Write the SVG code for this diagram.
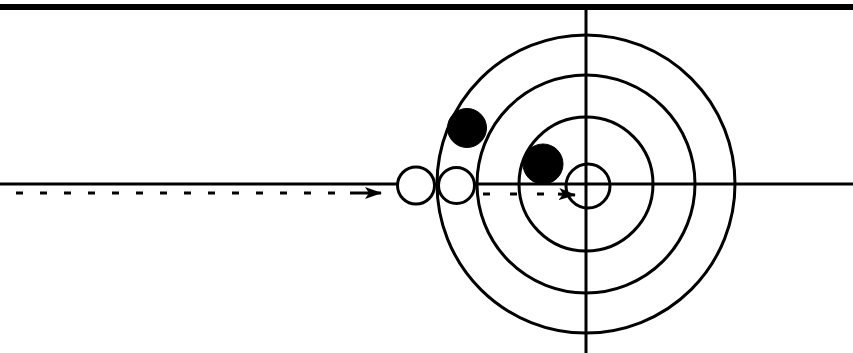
<svg xmlns="http://www.w3.org/2000/svg" width="853" height="353" viewBox="0 0 853 353">
<style>
.ln{stroke:#000;stroke-width:3;fill:none}
.ring{stroke:#000;stroke-width:3;fill:none}
.stone{stroke:#000;stroke-width:3;fill:#fff}
.hit{fill:#000;stroke:#000;stroke-width:1}
.path{stroke:#000;stroke-width:3;fill:none;stroke-dasharray:7 17}
</style>
<defs>
<marker id="ah" markerWidth="17" markerHeight="12" refX="16" refY="6" orient="auto" markerUnits="userSpaceOnUse" viewBox="0 0 17 12">
<path d="M0,0 L17,6 L0,12 L4,6 Z" fill="#000"/>
</marker>
</defs>
<rect width="853" height="353" fill="#fff"/>
<g id="sheet">
<line class="ln" x1="0" y1="7" x2="853" y2="7" style="stroke-width:6"/>
<line class="ln" x1="0" y1="184" x2="853" y2="184"/>
<line class="ln" x1="586" y1="7" x2="586" y2="353"/>
</g>
<g id="house">
<circle class="ring" cx="586" cy="184" r="149"/>
<circle class="ring" cx="586" cy="184" r="109"/>
<circle class="ring" cx="586" cy="184" r="67"/>
</g>
<g id="connectors">
<line class="path" x1="16" y1="193" x2="345" y2="193"/>
<line x1="350" y1="193" x2="381" y2="193" stroke="#000" stroke-width="3" marker-end="url(#ah)"/>
<line class="path" x1="483" y1="194" x2="545" y2="194" style="stroke-dasharray:7 20"/>
<line x1="558" y1="194" x2="575" y2="195" stroke="#000" stroke-width="3" marker-end="url(#ah)"/>
</g>
<g id="stone-start">
<circle class="stone" cx="416" cy="185.5" r="18.5"/>
</g>
<g id="stone-contact">
<circle class="stone" cx="456.5" cy="185.5" r="18"/>
</g>
<g id="stone-final">
<circle class="ring" cx="588" cy="186" r="22"/>
</g>
<g id="stone-black-1">
<circle class="hit" cx="467" cy="128" r="19.5"/>
</g>
<g id="stone-black-2">
<circle class="hit" cx="543" cy="164" r="20"/>
</g>
</svg>
